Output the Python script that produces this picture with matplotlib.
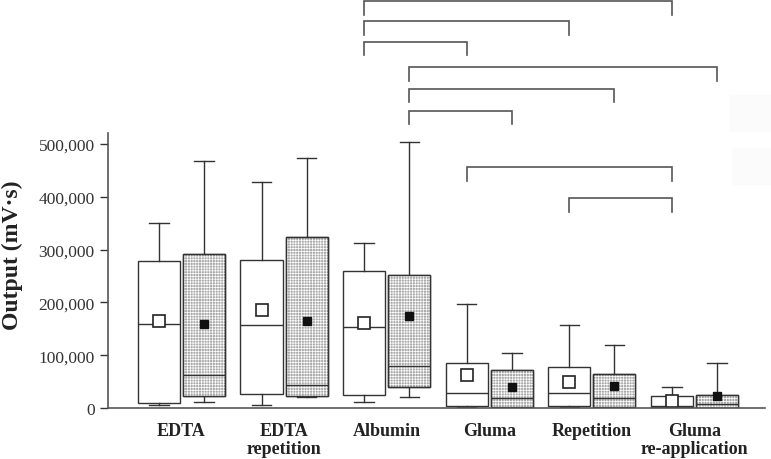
import matplotlib.pyplot as plt
from matplotlib.patches import PathPatch, Rectangle
from matplotlib.ticker import StrMethodFormatter

plt.rcParams['font.family'] = ['Liberation Serif', 'DejaVu Serif']
plt.rcParams['hatch.linewidth'] = 0.5

groups = ['EDTA', 'EDTA\nrepetition', 'Albumin', 'Gluma', 'Repetition', 'Gluma\nre-application']

# open (white) boxes
open_lo = [5000, 6000, 11000, 2000, 2000, 1000]
open_q1 = [9000, 26000, 24000, 3000, 3000, 2000]
open_med = [159000, 157000, 153000, 29000, 28000, 4000]
open_q3 = [278000, 280000, 259000, 86000, 77000, 22000]
open_hi = [350000, 427000, 312000, 196000, 158000, 39000]
open_mean = [165000, 186000, 161000, 62000, 50000, 13000]

# dotted boxes
dot_lo = [11000, 21000, 20000, 0, 0, 0]
dot_q1 = [22000, 22000, 39000, 1000, 1000, 500]
dot_med = [63000, 44000, 80000, 18000, 19000, 7000]
dot_q3 = [292000, 323000, 252000, 71000, 64000, 25000]
dot_hi = [468000, 473000, 503000, 105000, 120000, 86000]
dot_mean = [159000, 165000, 174000, 39000, 41000, 23000]

# significance brackets: from group, to group, which box, level
br_from = [2, 2, 2, 2, 2, 2, 3, 4]
br_to = [5, 4, 3, 5, 4, 3, 5, 5]
br_box = ['open', 'open', 'open', 'dot', 'dot', 'dot', 'open', 'open']
br_level = [770000, 732000, 694000, 646000, 605000, 563000, 456000, 398000]

off = 0.22
width = 0.41
line_c = '#333333'

fig = plt.figure(figsize=(7.71, 4.6), dpi=100)
ax = fig.add_axes([0.140, 0.111, 0.852, 0.598])


def stats(lo, q1, med, q3, hi, mean):
    return [dict(whislo=a, q1=b, med=c, q3=d, whishi=e, mean=f, fliers=[])
            for a, b, c, d, e, f in zip(lo, q1, med, q3, hi, mean)]


pos_open = [i - off for i in range(len(groups))]
pos_dot = [i + off for i in range(len(groups))]

common = dict(widths=width, patch_artist=True, showmeans=True, showfliers=False,
              manage_ticks=False, capwidths=0.19,
              whiskerprops=dict(color=line_c, lw=1.0),
              capprops=dict(color=line_c, lw=1.0),
              medianprops=dict(color=line_c, lw=1.0))

ax.bxp(stats(open_lo, open_q1, open_med, open_q3, open_hi, open_mean), positions=pos_open,
       boxprops=dict(facecolor='white', edgecolor=line_c, lw=1.0),
       meanprops=dict(marker='s', markerfacecolor='white', markeredgecolor='#222222',
                      markersize=8, markeredgewidth=1.2),
       **common)
bp = ax.bxp(stats(dot_lo, dot_q1, dot_med, dot_q3, dot_hi, dot_mean), positions=pos_dot,
            boxprops=dict(facecolor='#a9a9a9', edgecolor=line_c, lw=1.0),
            meanprops=dict(marker='s', markerfacecolor='#111111', markeredgecolor='#111111',
                           markersize=6),
            **common)

# stipple texture on the dotted boxes
for box in bp['boxes']:
    ax.add_patch(PathPatch(box.get_path(), facecolor='none', edgecolor='white', lw=0,
                           hatch='++++++', zorder=2.01))
    ax.add_patch(PathPatch(box.get_path(), facecolor='none', edgecolor=line_c, lw=1.0,
                           zorder=2.02))

# brackets above the plot
leg = 26000
for a, b, kind, lvl in zip(br_from, br_to, br_box, br_level):
    pos = pos_open if kind == 'open' else pos_dot
    xa, xb = pos[a], pos[b]
    ax.plot([xa, xa, xb, xb], [lvl - leg, lvl, lvl, lvl - leg], color='#555555', lw=1.2,
            clip_on=False, solid_joinstyle='miter')

ax.set_xlim(-0.717, 5.686)
ax.set_ylim(0, 521000)
ax.set_yticks([0, 100000, 200000, 300000, 400000, 500000])
ax.yaxis.set_major_formatter(StrMethodFormatter('{x:,.0f}'))
ax.tick_params(axis='y', direction='out', length=5.5, width=1.0, pad=4, labelsize=12.5,
               colors='#333333')
ax.set_xticks(range(len(groups)))
ax.set_xticklabels(groups, fontweight='bold', fontsize=13, linespacing=1.1)
ax.tick_params(axis='x', length=0, pad=10, labelcolor='#222222')

for s in ['top', 'right']:
    ax.spines[s].set_visible(False)
for s in ['left', 'bottom']:
    ax.spines[s].set_color('#555555')
    ax.spines[s].set_linewidth(1.2)

fig.text(12.5 / 771, 1 - 255 / 460, 'Output (mV·s)', rotation=90, ha='center', va='center',
         fontsize=17, fontweight='bold', color='#222222')

# faint scan leftovers at the right edge
fig.patches.append(Rectangle((730 / 771, 1 - 132 / 460), 41 / 771, 36 / 460,
                             transform=fig.transFigure, color='#fbfbfb', zorder=0))
fig.patches.append(Rectangle((732 / 771, 1 - 185 / 460), 39 / 771, 36 / 460,
                             transform=fig.transFigure, color='#fbfbfb', zorder=0))

fig.savefig('out.png', dpi=100)
